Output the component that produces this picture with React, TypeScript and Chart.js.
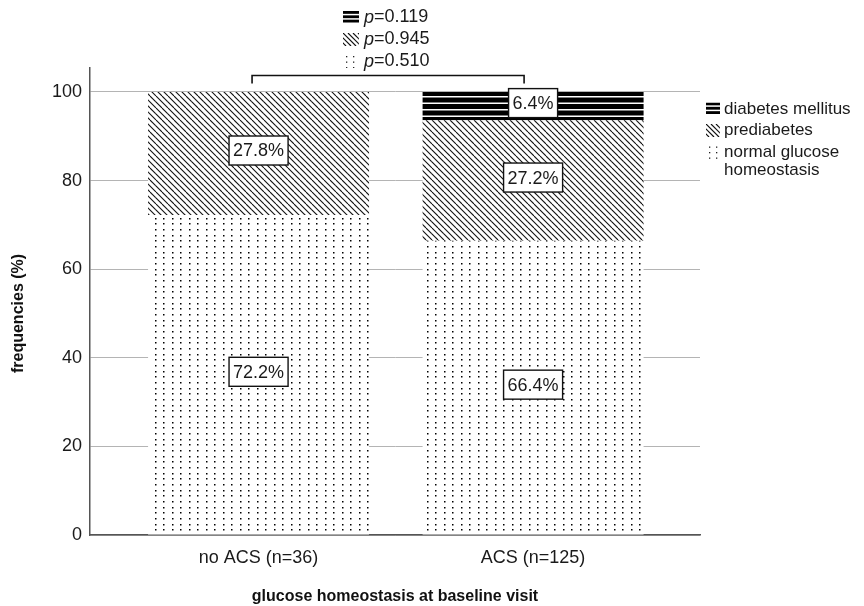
import React, { useEffect, useRef } from 'react';
import { Chart, registerables } from 'chart.js';

Chart.register(...registerables);

// ---------- data ----------
const categories = ['no ACS (n=36)', 'ACS (n=125)'];
const seriesNames = ['normal glucose homeostasis', 'prediabetes', 'diabetes mellitus'];
const normalGlucose = [72.2, 66.4];
const prediabetes = [27.8, 27.2];
const diabetesMellitus = [0, 6.4];
const pValues = ['0.510', '0.945', '0.119'];
const legendLabels = [['normal glucose', 'homeostasis'], ['prediabetes'], ['diabetes mellitus']];
const yTickValues = [0, 20, 40, 60, 80, 100];
const yAxisTitle = 'frequencies (%)';
const xAxisTitle = 'glucose homeostasis at baseline visit';

const seriesValues = [normalGlucose, prediabetes, diabetesMellitus];

// ---------- styles ----------
const FONT = '"Liberation Sans", Arial, Helvetica, sans-serif';
type Kind = 'dots' | 'hatch' | 'stripes';
const kinds: Kind[] = ['dots', 'hatch', 'stripes'];

function tile(w: number, h: number, draw: (g: CanvasRenderingContext2D) => void) {
  const c = document.createElement('canvas');
  c.width = w;
  c.height = h;
  const g = c.getContext('2d')!;
  g.fillStyle = '#fff';
  g.fillRect(0, 0, w, h);
  draw(g);
  return c;
}

function makePattern(ctx: CanvasRenderingContext2D, kind: Kind) {
  if (kind === 'dots') {
    return ctx.createPattern(
      tile(17, 17, (g) => {
        g.fillStyle = '#000';
        for (const x of [2, 10]) for (const y of [2, 8, 14]) g.fillRect(x, y, 1.5, 1.5);
      }),
      'repeat'
    );
  }
  if (kind === 'hatch') {
    return ctx.createPattern(
      tile(12, 12, (g) => {
        g.strokeStyle = '#111';
        g.lineWidth = 1.1;
        for (let k = -2; k <= 2; k++) {
          g.beginPath();
          g.moveTo(k * 6, 0);
          g.lineTo(k * 6 + 12, 12);
          g.stroke();
        }
      }),
      'repeat'
    );
  }
  return ctx.createPattern(
    tile(8, 13, (g) => {
      g.fillStyle = '#000';
      g.fillRect(0, 0, 8, 5);
      g.fillRect(0, 6.5, 8, 5);
    }),
    'repeat'
  );
}

function drawIcon(ctx: CanvasRenderingContext2D, kind: Kind, x: number, y: number, w: number, h: number) {
  ctx.save();
  ctx.beginPath();
  ctx.rect(x, y, w, h);
  ctx.clip();
  if (kind === 'stripes') {
    ctx.fillStyle = '#000';
    const step = h / 3;
    for (let k = 0; k < 3; k++) ctx.fillRect(x, y + k * step, w, step - 1.5);
  } else if (kind === 'hatch') {
    ctx.strokeStyle = '#111';
    ctx.lineWidth = 1.2;
    for (let k = -4; k <= 4; k++) {
      ctx.beginPath();
      ctx.moveTo(x + k * 5, y);
      ctx.lineTo(x + k * 5 + h, y + h);
      ctx.stroke();
    }
  } else {
    ctx.fillStyle = '#222';
    for (let cx = x + 3; cx < x + w; cx += 7) for (let cy = y + 1; cy < y + h; cy += 5.5) ctx.fillRect(cx, cy, 1.3, 1.3);
  }
  ctx.restore();
}

const annotatePlugin = {
  id: 'annotate',
  afterDatasetsDraw(chart: any) {
    const ctx: CanvasRenderingContext2D = chart.ctx;
    const xs = chart.scales.x;
    const ys = chart.scales.y;
    ctx.save();

    // value boxes
    ctx.font = `18px ${FONT}`;
    ctx.textAlign = 'center';
    ctx.textBaseline = 'middle';
    chart.data.datasets.forEach((_ds: any, di: number) => {
      const meta = chart.getDatasetMeta(di);
      meta.data.forEach((bar: any, i: number) => {
        const v = seriesValues[di][i];
        if (!v) return;
        const p = bar.getProps(['x', 'y', 'base'], true);
        const cx = p.x;
        const cy = (p.y + p.base) / 2 - 3;
        const text = v.toFixed(1) + '%';
        const w = ctx.measureText(text).width + 8;
        const h = 29;
        ctx.fillStyle = '#fff';
        ctx.fillRect(cx - w / 2, cy - h / 2, w, h);
        ctx.strokeStyle = '#111';
        ctx.lineWidth = 1.4;
        ctx.strokeRect(cx - w / 2, cy - h / 2, w, h);
        ctx.fillStyle = '#1a1a1a';
        ctx.fillText(text, cx, cy + 1);
      });
    });

    // bracket
    const x1 = xs.getPixelForValue(1) - 6.5;
    const x2 = xs.getPixelForValue(2) - 9;
    ctx.strokeStyle = '#111';
    ctx.lineWidth = 1.6;
    ctx.beginPath();
    ctx.moveTo(x1, 83.5);
    ctx.lineTo(x1, 75.5);
    ctx.lineTo(x2, 75.5);
    ctx.lineTo(x2, 83.5);
    ctx.stroke();

    // p-values (top to bottom: diabetes, prediabetes, normal)
    ctx.textAlign = 'left';
    ctx.textBaseline = 'middle';
    const order = [2, 1, 0];
    order.forEach((si, row) => {
      const cy = 17.5 + row * 22;
      drawIcon(ctx, kinds[si], 343, cy - 6.5, 16, 13);
      ctx.fillStyle = '#1a1a1a';
      ctx.font = `italic 18px ${FONT}`;
      ctx.fillText('p', 364, cy);
      const pw = ctx.measureText('p').width;
      ctx.font = `18px ${FONT}`;
      ctx.fillText('=' + pValues[si], 364 + pw, cy);
    });

    // legend (top to bottom: diabetes, prediabetes, normal)
    let ly = 109;
    order.forEach((si) => {
      const lines = legendLabels[si];
      const ih = lines.length > 1 ? 17 : 13;
      drawIcon(ctx, kinds[si], 706, ly - 6.5, 14, ih);
      ctx.fillStyle = '#1a1a1a';
      ctx.font = `17px ${FONT}`;
      lines.forEach((ln, k) => ctx.fillText(ln, 724, ly + k * 18));
      ly += lines.length * 18 + 3.5;
    });

    // y axis title, centred on the 0-100 range
    ctx.save();
    ctx.translate(19, (ys.getPixelForValue(0) + ys.getPixelForValue(100)) / 2);
    ctx.rotate(-Math.PI / 2);
    ctx.textAlign = 'center';
    ctx.textBaseline = 'middle';
    ctx.font = `bold 16px ${FONT}`;
    ctx.fillStyle = '#111';
    ctx.fillText(yAxisTitle, 0, 0);
    ctx.restore();

    ctx.restore();
  },
};

export default function App() {
  const ref = useRef<HTMLCanvasElement | null>(null);

  useEffect(() => {
    const canvas = ref.current!;
    const ctx = canvas.getContext('2d')!;
    Chart.defaults.font.family = FONT;

    const datasets = seriesNames.map((name, si) => ({
      label: name,
      data: categories.map((_c, i) => ({ x: i + 1, y: seriesValues[si][i] })),
      backgroundColor: makePattern(ctx, kinds[si]) as any,
      borderWidth: 0,
      barPercentage: 1,
      categoryPercentage: 0.805,
    }));

    const chart = new Chart(canvas, {
      type: 'bar',
      data: { datasets },
      options: {
        animation: false,
        responsive: true,
        maintainAspectRatio: false,
        layout: { padding: { top: 68, right: 164, left: 0, bottom: 0 } },
        plugins: {
          legend: { display: false },
          tooltip: { enabled: false },
        },
        scales: {
          x: {
            type: 'linear',
            min: 0.386,
            max: 2.608,
            stacked: true,
            offset: false,
            afterBuildTicks: (s: any) => {
              s.ticks = categories.map((_c, i) => ({ value: i + 1 }));
            },
            afterFit: (s: any) => {
              s.height = 71;
            },
            ticks: {
              autoSkip: false,
              maxRotation: 0,
              padding: 12,
              color: '#1a1a1a',
              font: { size: 18 },
              callback: (v: any) => categories[Number(v) - 1] ?? '',
            },
            grid: { color: 'rgba(0,0,0,0)', drawTicks: false },
            border: { display: true, color: '#555', width: 1.5 },
            title: {
              display: true,
              text: xAxisTitle,
              color: '#111',
              font: { size: 16, weight: 'bold' },
              padding: { top: 0, bottom: 0 },
            },
          },
          y: {
            stacked: true,
            min: 0,
            max: 105.4,
            afterBuildTicks: (s: any) => {
              s.ticks = yTickValues.map((v) => ({ value: v }));
            },
            afterFit: (s: any) => {
              s.width = 90;
            },
            ticks: { padding: 8, color: '#1a1a1a', font: { size: 18 } },
            grid: { color: '#b4b4b4', lineWidth: 1, drawTicks: false },
            border: { display: true, color: '#555', width: 1.5 },
          },
        },
      } as any,
      plugins: [annotatePlugin],
    });

    return () => chart.destroy();
  }, []);

  return (
    <div style={{ position: 'fixed', left: 0, top: 0, width: 864, height: 606, background: '#fff' }}>
      <canvas ref={ref} />
    </div>
  );
}
